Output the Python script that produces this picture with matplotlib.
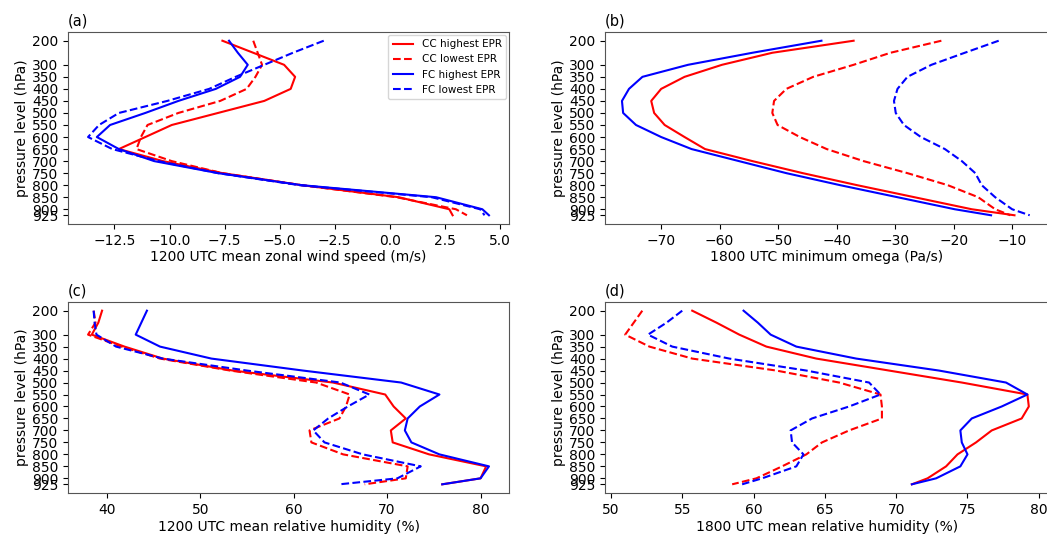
import matplotlib
matplotlib.use("Agg")
import matplotlib.pyplot as plt

levels = [200, 250, 300, 350, 400, 450, 500, 550, 600, 650, 700, 750, 800, 850, 900, 925]
ytick_levels = [200, 300, 350, 400, 450, 500, 550, 600, 650, 700, 750, 800, 850, 900, 925]

labels = ["CC highest EPR", "CC lowest EPR", "FC highest EPR", "FC lowest EPR"]

# (a) 1200 UTC mean zonal wind speed (m/s)
u_cc_high = [-7.6, -6.2, -4.8, -4.3, -4.5, -5.7, -7.8, -9.9, -11.1, -12.3, -10.3, -7.6, -4.0, 0.4, 2.7, 2.85]
u_cc_low = [-6.2, -6.0, -5.8, -6.1, -6.5, -7.7, -9.6, -11.0, -11.3, -11.5, -9.9, -7.6, -4.0, 0.3, 3.0, 3.5]
u_fc_high = [-7.3, -6.9, -6.45, -6.8, -7.9, -9.6, -11.1, -12.7, -13.3, -12.3, -10.7, -7.8, -4.0, 2.1, 4.2, 4.5]
u_fc_low = [-3.0, -4.4, -5.7, -7.0, -8.2, -10.1, -12.3, -13.2, -13.7, -12.6, -10.5, -7.8, -4.1, 1.9, 4.1, 4.3]

# (b) 1800 UTC minimum omega (Pa/s)
w_cc_high = [-37.1, -51.0, -59.6, -66.0, -70.0, -71.7, -71.2, -69.4, -66.0, -62.5, -54.4, -45.8, -36.5, -26.7, -16.9, -9.6]
w_cc_low = [-22.1, -30.8, -37.1, -44.0, -48.6, -50.7, -51.0, -50.1, -46.3, -41.7, -35.4, -27.9, -21.0, -15.8, -12.9, -10.3]
w_fc_high = [-42.6, -54.4, -65.4, -73.2, -75.5, -76.7, -76.5, -74.3, -70.0, -64.8, -56.7, -48.6, -39.4, -29.6, -19.8, -13.6]
w_fc_low = [-12.3, -18.1, -23.8, -27.9, -29.6, -30.2, -29.9, -28.5, -25.6, -21.5, -18.6, -16.3, -15.2, -12.9, -10.0, -7.0]

# (c) 1200 UTC mean relative humidity (%)
rh12_cc_high = [39.5, 39.1, 38.4, 41.9, 46.0, 53.5, 64.2, 69.8, 70.7, 72.0, 70.4, 70.6, 74.5, 80.6, 80.0, 75.9]
rh12_cc_low = [38.6, 38.8, 38.0, 41.6, 45.7, 53.2, 62.4, 66.0, 65.6, 64.9, 61.7, 61.9, 65.3, 72.2, 72.0, 67.6]
rh12_fc_high = [44.3, 43.7, 43.1, 45.7, 51.2, 61.0, 71.5, 75.6, 73.5, 72.2, 71.9, 72.6, 75.6, 80.9, 80.0, 75.9]
rh12_fc_low = [38.6, 38.7, 38.9, 41.0, 46.0, 55.0, 65.0, 68.1, 65.8, 63.7, 62.1, 63.3, 67.4, 73.6, 71.1, 64.9]

# (d) 1800 UTC mean relative humidity (%)
rh18_cc_high = [55.7, 57.4, 59.0, 60.9, 64.4, 69.5, 74.6, 79.2, 79.3, 78.8, 76.7, 75.6, 74.3, 73.5, 72.2, 71.1]
rh18_cc_low = [52.2, 51.6, 51.0, 52.7, 55.7, 61.6, 66.0, 68.9, 69.0, 69.0, 66.7, 64.8, 63.7, 62.0, 60.2, 58.5]
rh18_fc_high = [59.3, 60.3, 61.2, 63.0, 67.2, 73.0, 77.7, 79.2, 77.4, 75.3, 74.5, 74.6, 75.0, 74.5, 72.8, 71.1]
rh18_fc_low = [55.0, 53.9, 52.6, 54.3, 58.3, 63.7, 68.1, 68.9, 66.7, 64.1, 62.6, 62.7, 63.5, 63.0, 60.6, 59.2]

plt.rcParams["font.family"] = "DejaVu Sans"
plt.rcParams["font.size"] = 10

W, H = 1047, 538
fig = plt.figure(figsize=(W / 100, H / 100), dpi=100)


def box(l, t, r, b):
    # pixel box -> figure fraction
    return [l / W, 1 - b / H, (r - l) / W, (b - t) / H]


def profile(ax, cc_high, cc_low, fc_high, fc_low, xlabel, tag):
    ax.plot(cc_high, levels, color="red", ls="-", lw=1.5, label=labels[0])
    ax.plot(cc_low, levels, color="red", ls="--", lw=1.5, label=labels[1])
    ax.plot(fc_high, levels, color="blue", ls="-", lw=1.5, label=labels[2])
    ax.plot(fc_low, levels, color="blue", ls="--", lw=1.5, label=labels[3])
    ax.set_yticks(ytick_levels)
    ax.invert_yaxis()
    ax.set_ylabel("pressure level (hPa)", labelpad=2)
    ax.set_xlabel(xlabel, labelpad=2)
    ax.set_title(tag, loc="left", fontsize=10.5, pad=5)
    for s in ax.spines.values():
        s.set_edgecolor("#555555")


ax_a = fig.add_axes(box(68, 32, 509, 224))
ax_b = fig.add_axes(box(605, 32, 1049, 224))
ax_c = fig.add_axes(box(68, 302, 509, 493))
ax_d = fig.add_axes(box(605, 302, 1049, 493))

profile(ax_a, u_cc_high, u_cc_low, u_fc_high, u_fc_low,
        "1200 UTC mean zonal wind speed (m/s)", "(a)")
profile(ax_b, w_cc_high, w_cc_low, w_fc_high, w_fc_low,
        "1800 UTC minimum omega (Pa/s)", "(b)")
profile(ax_c, rh12_cc_high, rh12_cc_low, rh12_fc_high, rh12_fc_low,
        "1200 UTC mean relative humidity (%)", "(c)")
profile(ax_d, rh18_cc_high, rh18_cc_low, rh18_fc_high, rh18_fc_low,
        "1800 UTC mean relative humidity (%)", "(d)")

ax_b.set_xlim(-79.6, -3.7)

ax_a.legend(loc="upper right", fontsize=7.5, borderaxespad=0.3)

fig.savefig("out.png", dpi=100)
